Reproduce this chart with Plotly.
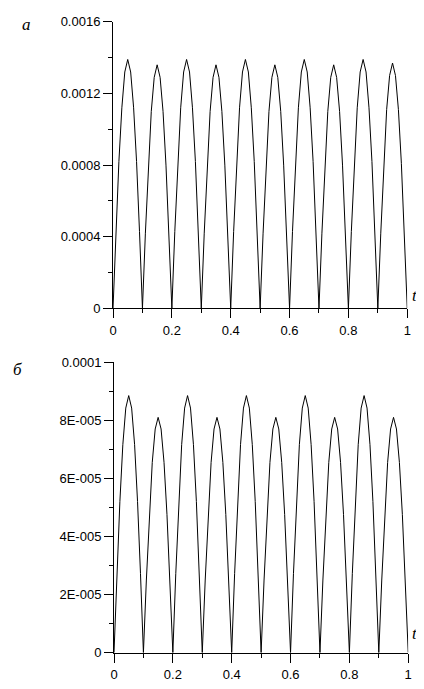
import plotly.graph_objects as go

# time grid, step 0.01
t = [0.00, 0.01, 0.02, 0.03, 0.04, 0.05, 0.06, 0.07, 0.08, 0.09,
     0.10, 0.11, 0.12, 0.13, 0.14, 0.15, 0.16, 0.17, 0.18, 0.19,
     0.20, 0.21, 0.22, 0.23, 0.24, 0.25, 0.26, 0.27, 0.28, 0.29,
     0.30, 0.31, 0.32, 0.33, 0.34, 0.35, 0.36, 0.37, 0.38, 0.39,
     0.40, 0.41, 0.42, 0.43, 0.44, 0.45, 0.46, 0.47, 0.48, 0.49,
     0.50, 0.51, 0.52, 0.53, 0.54, 0.55, 0.56, 0.57, 0.58, 0.59,
     0.60, 0.61, 0.62, 0.63, 0.64, 0.65, 0.66, 0.67, 0.68, 0.69,
     0.70, 0.71, 0.72, 0.73, 0.74, 0.75, 0.76, 0.77, 0.78, 0.79,
     0.80, 0.81, 0.82, 0.83, 0.84, 0.85, 0.86, 0.87, 0.88, 0.89,
     0.90, 0.91, 0.92, 0.93, 0.94, 0.95, 0.96, 0.97, 0.98, 0.99,
     1.00]

# panel a
a_vals = [0, 0.00043, 0.00082, 0.00112, 0.00132, 0.00139, 0.00132, 0.00112, 0.00082, 0.00043,
          0, 0.00042, 0.00080, 0.00110, 0.00129, 0.00136, 0.00129, 0.00110, 0.00080, 0.00042,
          0, 0.00043, 0.00082, 0.00112, 0.00132, 0.00139, 0.00132, 0.00112, 0.00082, 0.00043,
          0, 0.00042, 0.00080, 0.00110, 0.00129, 0.00136, 0.00129, 0.00110, 0.00080, 0.00042,
          0, 0.00043, 0.00082, 0.00112, 0.00132, 0.00139, 0.00132, 0.00112, 0.00082, 0.00043,
          0, 0.00042, 0.00080, 0.00110, 0.00129, 0.00136, 0.00129, 0.00110, 0.00080, 0.00042,
          0, 0.00043, 0.00082, 0.00112, 0.00132, 0.00139, 0.00132, 0.00112, 0.00082, 0.00043,
          0, 0.00042, 0.00080, 0.00110, 0.00129, 0.00136, 0.00129, 0.00110, 0.00080, 0.00042,
          0, 0.00043, 0.00082, 0.00112, 0.00132, 0.00139, 0.00132, 0.00112, 0.00082, 0.00043,
          0, 0.00042, 0.00081, 0.00111, 0.00130, 0.00137, 0.00130, 0.00111, 0.00081, 0.00042,
          0]

# panel b
b_vals = [0, 2.73e-5, 5.20e-5, 7.16e-5, 8.42e-5, 8.85e-5, 8.42e-5, 7.16e-5, 5.20e-5, 2.73e-5,
          0, 2.50e-5, 4.76e-5, 6.55e-5, 7.70e-5, 8.10e-5, 7.70e-5, 6.55e-5, 4.76e-5, 2.50e-5,
          0, 2.73e-5, 5.20e-5, 7.16e-5, 8.42e-5, 8.85e-5, 8.42e-5, 7.16e-5, 5.20e-5, 2.73e-5,
          0, 2.50e-5, 4.76e-5, 6.55e-5, 7.70e-5, 8.10e-5, 7.70e-5, 6.55e-5, 4.76e-5, 2.50e-5,
          0, 2.73e-5, 5.20e-5, 7.16e-5, 8.42e-5, 8.85e-5, 8.42e-5, 7.16e-5, 5.20e-5, 2.73e-5,
          0, 2.50e-5, 4.76e-5, 6.55e-5, 7.70e-5, 8.10e-5, 7.70e-5, 6.55e-5, 4.76e-5, 2.50e-5,
          0, 2.73e-5, 5.20e-5, 7.16e-5, 8.42e-5, 8.85e-5, 8.42e-5, 7.16e-5, 5.20e-5, 2.73e-5,
          0, 2.50e-5, 4.76e-5, 6.55e-5, 7.70e-5, 8.10e-5, 7.70e-5, 6.55e-5, 4.76e-5, 2.50e-5,
          0, 2.73e-5, 5.20e-5, 7.16e-5, 8.42e-5, 8.85e-5, 8.42e-5, 7.16e-5, 5.20e-5, 2.73e-5,
          0, 2.50e-5, 4.76e-5, 6.55e-5, 7.70e-5, 8.10e-5, 7.70e-5, 6.55e-5, 4.76e-5, 2.50e-5,
          0]

x_ticks = [0, 0.2, 0.4, 0.6, 0.8, 1]
x_labels = ["0", "0.2", "0.4", "0.6", "0.8", "1"]
x_minor = [0.1, 0.3, 0.5, 0.7, 0.9]

a_ticks = [0, 0.0004, 0.0008, 0.0012, 0.0016]
a_labels = ["0", "0.0004", "0.0008", "0.0012", "0.0016"]
a_minor = [0.0002, 0.0006, 0.001, 0.0014]
b_ticks = [0, 2e-5, 4e-5, 6e-5, 8e-5, 1e-4]
b_labels = ["0", "2E-005", "4E-005", "6E-005", "8E-005", "0.0001"]
b_minor = [1e-5, 3e-5, 5e-5, 7e-5, 9e-5]

# page body has an 8px margin, so the figure is laid out in page pixels minus 8
OFF = 8
W, H = 424 - OFF, 689 - OFF
def px(x):
    return (x - OFF) / W
def py(y):
    return 1 - (y - OFF) / H

font = dict(family="Liberation Sans, Arial", size=13, color="black")

fig = go.Figure()
fig.add_trace(go.Scatter(x=t, y=a_vals, mode="lines",
                         line=dict(color="black", width=1), xaxis="x", yaxis="y"))
fig.add_trace(go.Scatter(x=t, y=b_vals, mode="lines",
                         line=dict(color="black", width=1), xaxis="x2", yaxis="y2"))

minor = dict(ticks="outside", ticklen=4, tickcolor="black", showgrid=False)
xax = dict(range=[0, 1], showgrid=False, zeroline=False, showline=True,
           linecolor="black", linewidth=1, ticks="outside", ticklen=9,
           tickcolor="black", tickvals=x_ticks, ticktext=x_labels,
           tickfont=font, ticklabelstandoff=1,
           minor=dict(minor, tickvals=x_minor))
yax = dict(showgrid=False, zeroline=False, showline=True, linecolor="black",
           linewidth=1, ticks="outside", ticklen=9, tickcolor="black",
           tickfont=font)

fig.update_layout(
    width=W, height=H,
    margin=dict(l=0, r=0, t=0, b=0),
    paper_bgcolor="white", plot_bgcolor="white",
    showlegend=False,
    xaxis=dict(xax, domain=[px(111), px(411)], anchor="y"),
    yaxis=dict(yax, domain=[py(308), py(15)], anchor="x",
               range=[0, 0.0016], tickvals=a_ticks, ticktext=a_labels,
               minor=dict(minor, tickvals=a_minor)),
    xaxis2=dict(xax, domain=[px(112), px(412)], anchor="y2"),
    yaxis2=dict(yax, domain=[py(660), py(363)], anchor="x2",
                range=[0, 1e-4], tickvals=b_ticks, ticktext=b_labels,
                minor=dict(minor, tickvals=b_minor)),
)

serif = dict(family="Liberation Serif, Times New Roman", size=17, color="black")
for txt, x0, y0 in [("<i>a</i>", 23, 18), ("<i>б</i>", 14, 370),
                    ("<i>t</i>", 419, 295), ("<i>t</i>", 419, 640)]:
    fig.add_annotation(text=txt, x=px(x0), y=py(y0), xref="paper", yref="paper",
                       showarrow=False, font=serif, xanchor="center", yanchor="middle")

fig.write_html("out.html")
